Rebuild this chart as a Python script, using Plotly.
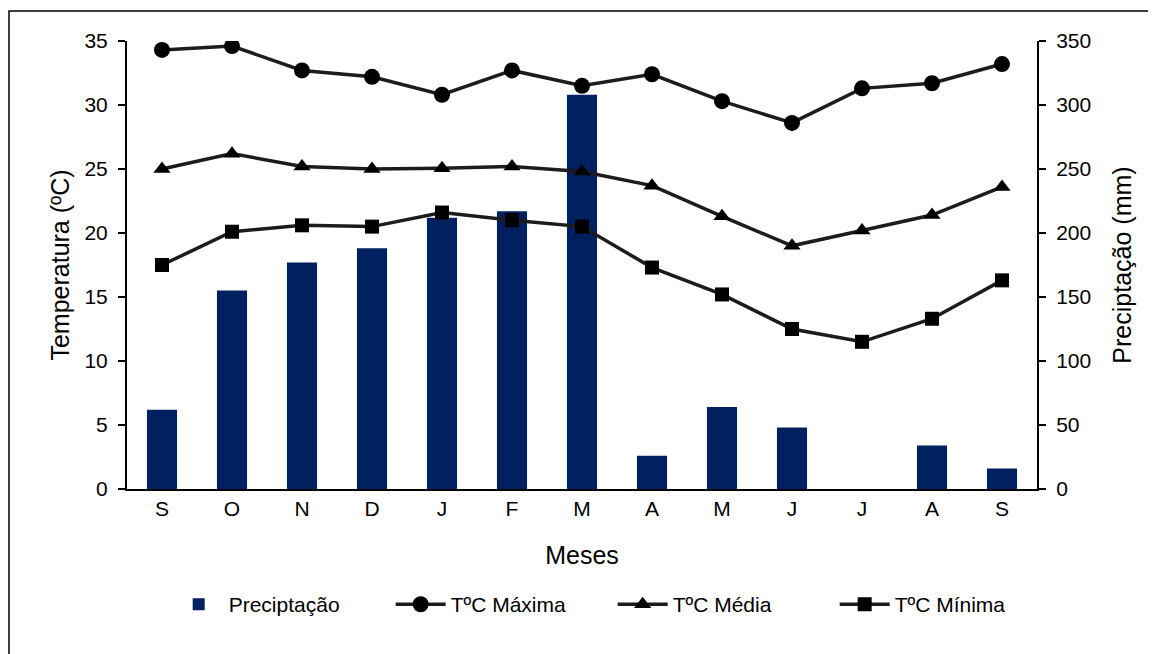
import plotly.graph_objects as go

meses = ["S", "O", "N", "D", "J", "F", "M", "A", "M", "J", "J", "A", "S"]
precipitacao = [62, 155, 177, 188, 212, 217, 308, 26, 64, 48, 0, 34, 16]
t_max = [34.3, 34.6, 32.7, 32.2, 30.8, 32.7, 31.5, 32.4, 30.3, 28.6, 31.3, 31.7, 33.2]
t_med = [25.0, 26.2, 25.2, 25.0, 25.05, 25.2, 24.8, 23.7, 21.3, 19.0, 20.2, 21.4, 23.6]
t_min = [17.5, 20.1, 20.6, 20.5, 21.6, 21.0, 20.5, 17.3, 15.2, 12.5, 11.5, 13.3, 16.3]

x = list(range(len(meses)))
FONT = "Liberation Sans, Arial, sans-serif"
LINE = "#1c1c1c"

fig = go.Figure()
fig.add_trace(go.Bar(x=x, y=precipitacao, name="Preciptação", marker=dict(color="#002060", line=dict(width=0)),
                     width=0.43, yaxis="y"))
for name, vals, sym, sz in [("TºC Máxima", t_max, "circle", 16),
                            ("TºC Média", t_med, "triangle-up", 15),
                            ("TºC Mínima", t_min, "square", 14)]:
    fig.add_trace(go.Scatter(x=x, y=vals, name=name, mode="lines+markers", yaxis="y2",
                             line=dict(color=LINE, width=3.5),
                             marker=dict(symbol=sym, size=sz, color="black")))

fig.update_layout(
    width=1148, height=646,
    margin=dict(l=119, r=119, t=33, b=165),
    paper_bgcolor="white", plot_bgcolor="white",
    font=dict(family=FONT, size=21, color="black"),
    showlegend=True,
    xaxis=dict(range=[-0.5, len(meses) - 0.5], tickvals=x, ticktext=meses, showgrid=False,
               showline=True, linecolor="black", linewidth=2, ticks="", zeroline=False,
               title=dict(text="Meses", standoff=27), tickfont=dict(size=21)),
    yaxis=dict(range=[0, 350], dtick=50, side="right", showgrid=False, zeroline=False,
               showline=True, linecolor="black", linewidth=2, ticks="outside", ticklen=7,
               tickwidth=2, tickcolor="black", ticklabelstandoff=6,
               title=dict(text="Preciptação (mm)", standoff=23)),
    yaxis2=dict(range=[0, 35], dtick=5, side="left", overlaying="y", showgrid=False, zeroline=False,
                showline=True, linecolor="black", linewidth=2, ticks="outside", ticklen=7,
                tickwidth=2, tickcolor="black", ticklabelstandoff=6,
                title=dict(text="Temperatura (ºC)", standoff=8)),
    legend=dict(orientation="h", x=0.0458, xanchor="left", y=-0.258, yanchor="middle",
                font=dict(size=21), itemwidth=50, entrywidth=157, bgcolor="rgba(0,0,0,0)"),
    bargap=0.5,
)

fig.add_shape(type="rect", xref="paper", yref="paper",
              x0=(9 - 127) / 910, x1=(1170 - 127) / 910,
              y0=(489 - 670) / 448, y1=(489 - 11) / 448,
              line=dict(color="black", width=1.5), layer="below")

fig.write_html("out.html")
